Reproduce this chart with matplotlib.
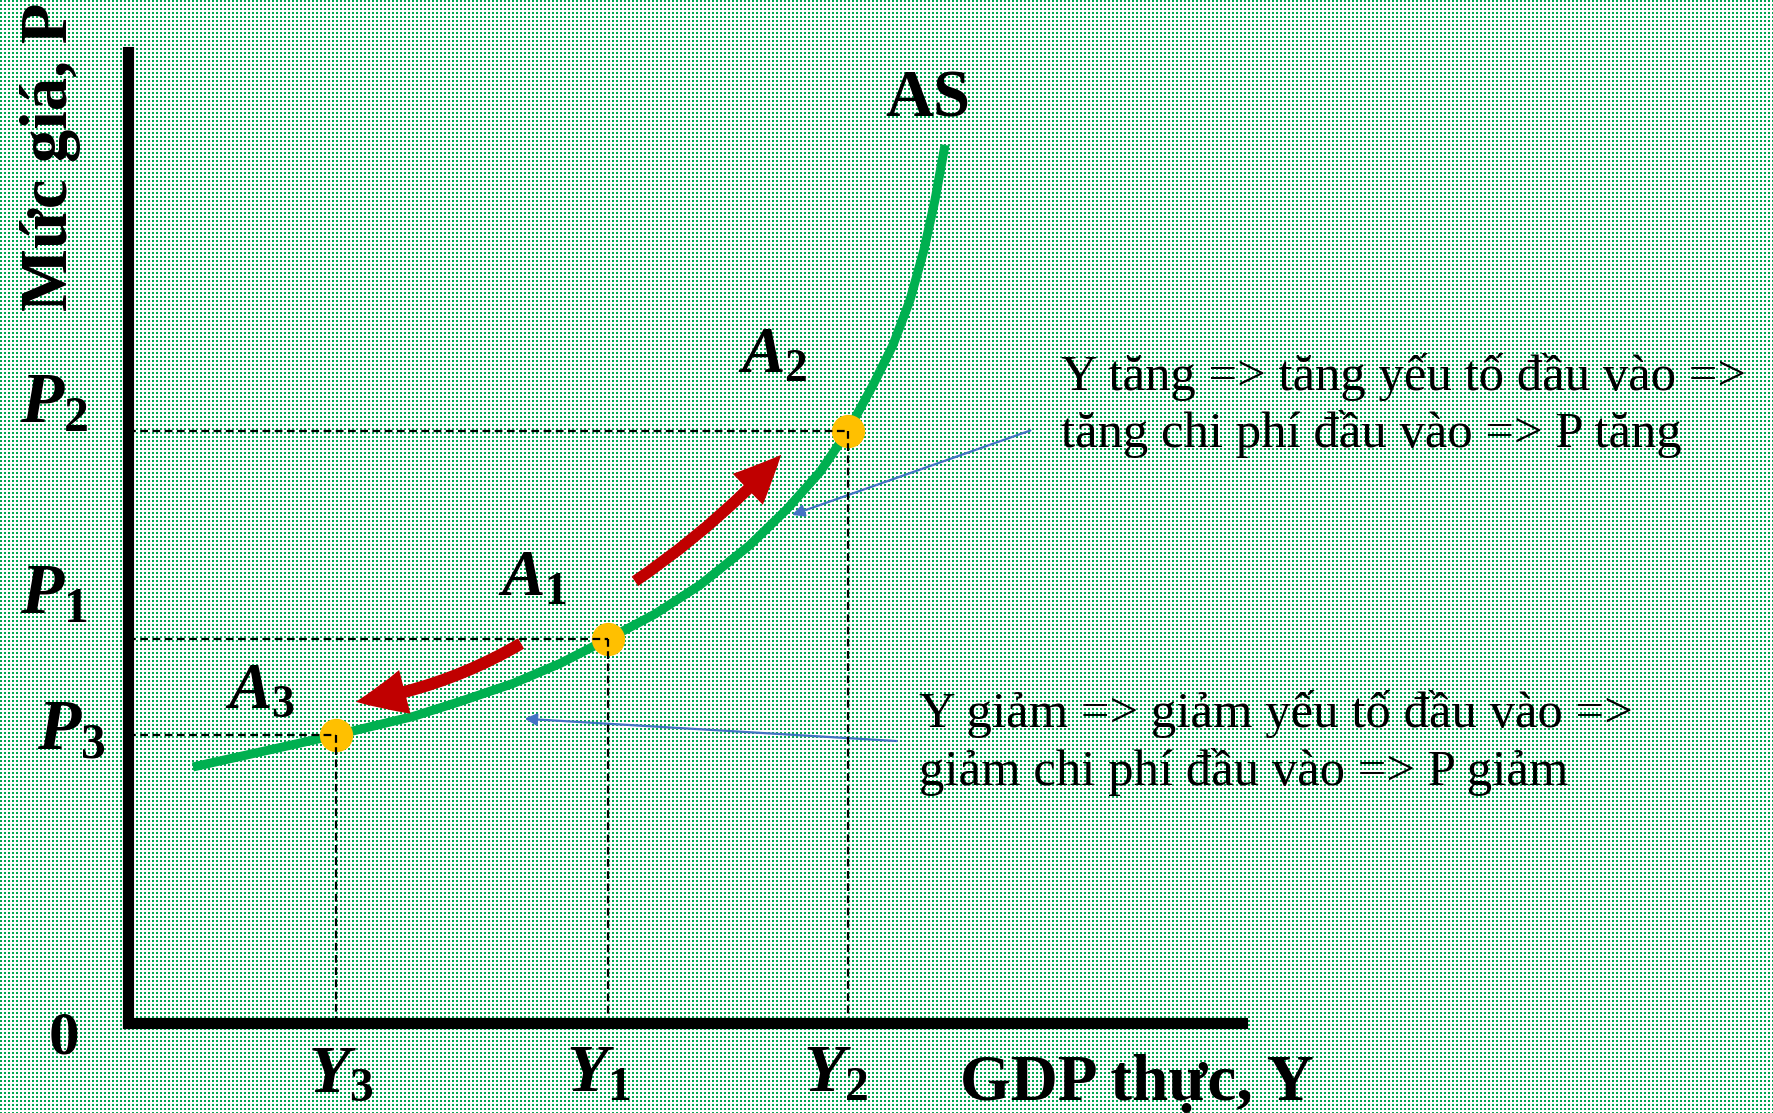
import matplotlib.pyplot as plt
import numpy as np
from matplotlib.patches import FancyArrowPatch, ArrowStyle

plt.rcParams['font.family'] = ['Liberation Serif', 'DejaVu Serif']
plt.rcParams['mathtext.fontset'] = 'custom'
plt.rcParams['mathtext.it'] = 'Liberation Serif:italic:bold'
plt.rcParams['mathtext.rm'] = 'Liberation Serif:bold'
plt.rcParams['mathtext.bf'] = 'Liberation Serif:bold'

# AS curve, read along its length (output Y, price level P)
as_y = [5.83, 11.85, 18.67, 25.58, 29.80, 34.56, 38.78, 43.09, 47.31, 51.35,
        55.83, 59.16, 62.12, 64.63, 66.88, 68.67, 70.20, 71.45, 72.44, 73.34]
as_p = [26.33, 27.87, 29.62, 31.53, 33.07, 34.93, 36.99, 39.52, 42.09, 45.08,
        49.20, 52.91, 56.73, 60.95, 65.69, 69.81, 74.45, 79.60, 84.75, 90.42]

# equilibrium points A1, A2, A3
pt_names = ['A_1', 'A_2', 'A_3']
pt_y = [43.09, 64.63, 18.67]
pt_p = [39.52, 60.95, 29.62]

W, H = 1774, 1113
fig = plt.figure(figsize=(W / 100, H / 100), dpi=100)
fig.patch.set_facecolor('white')

# dotted green fill behind everything
yy, xx = np.mgrid[0:H, 0:W]
dots = (xx % 4 < 2) & (yy % 4 < 2)
bg = np.ones((H, W, 3))
bg[dots] = [0.0, 0.65, 0.32]
fig.figimage(bg, 0, 0, zorder=-5)


def fx(x):
    return x / W


def fy(y):
    return 1 - y / H


ax = fig.add_axes([128 / W, 1 - 1022.5 / H, 1114 / W, 970.5 / H])
ax.set_zorder(1)
ax.set_xlim(0, 100)
ax.set_ylim(0, 100)
ax.patch.set_alpha(0)
for s in ['top', 'right']:
    ax.spines[s].set_visible(False)
for s in ['left', 'bottom']:
    ax.spines[s].set_linewidth(8)
    ax.spines[s].set_capstyle('projecting')
ax.set_xticks([])
ax.set_yticks([])

# AS curve
ax.plot(as_y, as_p, color='#00B050', lw=6.5, solid_capstyle='butt',
        solid_joinstyle='round', zorder=2, clip_on=False)

# points and dashed guides
ax.plot(pt_y, pt_p, 'o', ms=24, color='#FFC000', mec='none', zorder=3)
for y, p in zip(pt_y, pt_p):
    ax.plot([0, y], [p, p], color='black', lw=1.6, ls=(0, (3.5, 2)), zorder=4)
    ax.plot([y, y], [p, 0], color='black', lw=1.6, ls=(0, (3.5, 2)), zorder=4)

# red movement arrows along the curve
style = ArrowStyle.Simple(head_length=0.5, head_width=0.45, tail_width=0.12)
up = FancyArrowPatch((45.3, 45.3), (58.8, 58.7), arrowstyle=style,
                     connectionstyle='arc3,rad=0.06', mutation_scale=69,
                     color='#C00000', lw=0, zorder=5)
down = FancyArrowPatch((35.5, 39.2), (20.2, 33.0), arrowstyle=style,
                       connectionstyle='arc3,rad=-0.1', mutation_scale=72,
                       color='#C00000', lw=0, zorder=5)
ax.add_patch(up)
ax.add_patch(down)

# blue pointers from the notes to the curve
blue = dict(arrowstyle='-|>', color='#4472C4', lw=1.6, mutation_scale=18,
            shrinkA=0, shrinkB=0)
ax.annotate('', xy=(59.6, 52.3), xytext=(81.0, 61.0), arrowprops=blue)
ax.annotate('', xy=(35.6, 31.3), xytext=(69.0, 29.0), arrowprops=blue)

# axis labels
fig.text(fx(960), fy(1100), 'GDP thực, Y', fontsize=47, fontweight='bold',
         ha='left', va='baseline')
fig.text(fx(67), fy(311), 'Mức giá, P', fontsize=48, fontweight='bold',
         rotation=90, rotation_mode='anchor', ha='left', va='baseline')
fig.text(fx(64), fy(1053), '0', fontsize=44, fontweight='bold',
         ha='center', va='baseline')
fig.text(fx(885), fy(117), 'AS', fontsize=48, fontweight='bold',
         ha='left', va='baseline')

# price and output labels
for txt, x, y in [('$P_2$', 20, 422), ('$P_1$', 20, 613), ('$P_3$', 37, 750)]:
    fig.text(fx(x), fy(y), txt, fontsize=51, ha='left', va='baseline')
for txt, x in [('$Y_3$', 308), ('$Y_1$', 566), ('$Y_2$', 803)]:
    fig.text(fx(x), fy(1092), txt, fontsize=49, ha='left', va='baseline')

# point labels
for name, x, y in zip(pt_names, [498, 738, 225], [595, 372, 708]):
    fig.text(fx(x), fy(y), '$' + name + '$', fontsize=47, ha='left', va='baseline')

# notes
fig.text(fx(1061), fy(390), 'Y tăng => tăng yếu tố đầu vào =>', fontsize=36.5,
         ha='left', va='baseline')
fig.text(fx(1061), fy(447), 'tăng chi phí đầu vào => P tăng', fontsize=36.5,
         ha='left', va='baseline')
fig.text(fx(919), fy(727), 'Y giảm => giảm yếu tố đầu vào =>', fontsize=36.5,
         ha='left', va='baseline')
fig.text(fx(919), fy(785), 'giảm chi phí đầu vào => P giảm', fontsize=36.5,
         ha='left', va='baseline')

fig.savefig('out.png', dpi=100)
